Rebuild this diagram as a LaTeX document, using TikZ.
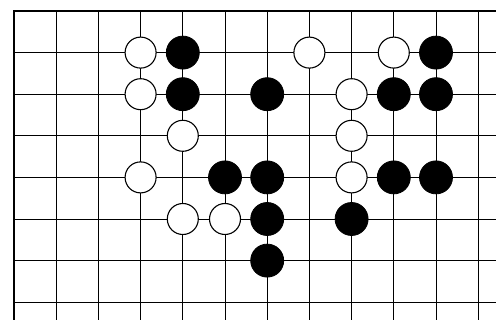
\documentclass[tikz,border=0pt]{standalone}
\begin{document}
\begin{tikzpicture}[x=1pt,y=-1pt,
  gridline/.style={line width=0.9pt},
  boardedge/.style={line width=1.8pt},
  wstone/.style={circle,draw,line width=1.1pt,fill=white,minimum size=31pt,inner sep=0pt},
  bstone/.style={circle,draw,line width=0.8pt,fill=black,minimum size=33pt,inner sep=0pt}]
\useasboundingbox (0,0) rectangle (496,320);
% grid
\foreach \c in {1,...,11}
  \draw[gridline] ({14+42.2*\c},11) -- ({14+42.2*\c},320);
\foreach \r in {1,...,7}
  \draw[gridline] (14,{11+41.6*\r}) -- (496,{11+41.6*\r});
\draw[boardedge] (14,320) -- (14,11) -- (496,11);
% white stones
\foreach \c/\r/\n in {3/1/wa,7/1/wb,9/1/wc,3/2/wd,8/2/we,4/3/wf,8/3/wg,3/4/wh,8/4/wi,4/5/wj,5/5/wk}
  \node[wstone] (\n) at ({14+42.2*\c},{11+41.6*\r}) {};
% black stones
\foreach \c/\r/\n in {4/1/ba,10/1/bb,4/2/bc,6/2/bd,9/2/be,10/2/bf,5/4/bg,6/4/bh,9/4/bi,10/4/bj,6/5/bk,8/5/bl,6/6/bm}
  \node[bstone] (\n) at ({14+42.2*\c},{11+41.6*\r}) {};
\end{tikzpicture}
\end{document}
